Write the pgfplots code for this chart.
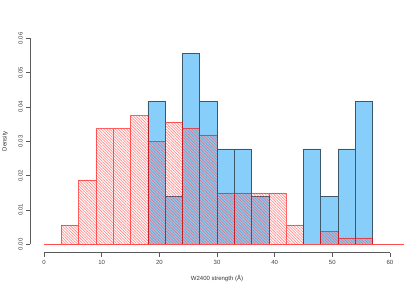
\documentclass[border=0pt]{standalone}
\usepackage{fontspec}
\setmainfont{Liberation Sans}
\usepackage{pgfplots}
\pgfplotsset{compat=1.18}
\usetikzlibrary{patterns.meta}
\definecolor{skyb}{RGB}{135,206,250}
\definecolor{bedge}{RGB}{60,88,108}
\definecolor{axgray}{RGB}{90,90,90}
\begin{document}
\begin{tikzpicture}
\path[use as bounding box] (0,0) rectangle (419pt,291pt);
\begin{axis}[
  at={(30.2pt,38.5pt)}, anchor=south west,
  scale only axis, width=373.6pt, height=222.4pt,
  xmin=-2.4, xmax=62.4, ymin=-0.0024, ymax=0.0624,
  axis line style={draw=none},
  scaled y ticks=false, scaled x ticks=false,
  xtick={0,10,20,30,40,50,60},
  xticklabels={0,10,20,30,40,50,60},
  ytick={0,0.01,0.02,0.03,0.04,0.05,0.06},
  yticklabels={0.00,0.01,0.02,0.03,0.04,0.05,0.06},
  tick align=outside, major tick length=4pt,
  xtick pos=bottom, ytick pos=left,
  tick style={axgray, line width=0.5pt},
  ticklabel style={font=\fontsize{6}{7}\selectfont, text=black!75},
  yticklabel style={rotate=90, anchor=south},
  xlabel={W2400 strength (Å)},
  xlabel style={at={(axis description cs:0.5,-0.1147)}, anchor=center, font=\fontsize{6}{7}\selectfont, text=black!80},
  ylabel={Density},
  ylabel style={at={(axis description cs:-0.0675,0.5)}, anchor=center, font=\fontsize{6}{7}\selectfont, text=black!80},
  clip=false,
]
% blue histogram (n = 24)
\addplot[ybar interval, fill=skyb, draw=bedge, line width=0.6pt] coordinates {
  (18,0.041667) (21,0.013889) (24,0.055556) (27,0.041667) (30,0.027778)
  (33,0.027778) (36,0.013889) (39,0) (42,0) (45,0.027778) (48,0.013889)
  (51,0.027778) (54,0.041667) (57,0)
};
% red hatched histogram (n = 178)
\addplot[ybar interval, draw=red, draw opacity=0.6, line width=0.6pt,
  pattern={Lines[angle=-45,distance=2pt,line width=0.75pt]}, pattern color=red!70] coordinates {
  (3,0.005618) (6,0.018727) (9,0.033708) (12,0.033708) (15,0.037453)
  (18,0.029963) (21,0.035581) (24,0.033708) (27,0.031835) (30,0.014981)
  (33,0.014981) (36,0.014981) (39,0.014981) (42,0.005618) (45,0)
  (48,0.003745) (51,0.001873) (54,0.001873) (57,0)
};
\addplot[red!70, line width=0.6pt] coordinates {(0,0) (62.4,0)};
\draw[axgray, line width=0.5pt] (axis cs:0,-0.0024) -- (axis cs:60,-0.0024);
\draw[axgray, line width=0.5pt] (axis cs:-2.4,0) -- (axis cs:-2.4,0.06);
\end{axis}
\end{tikzpicture}
\end{document}
